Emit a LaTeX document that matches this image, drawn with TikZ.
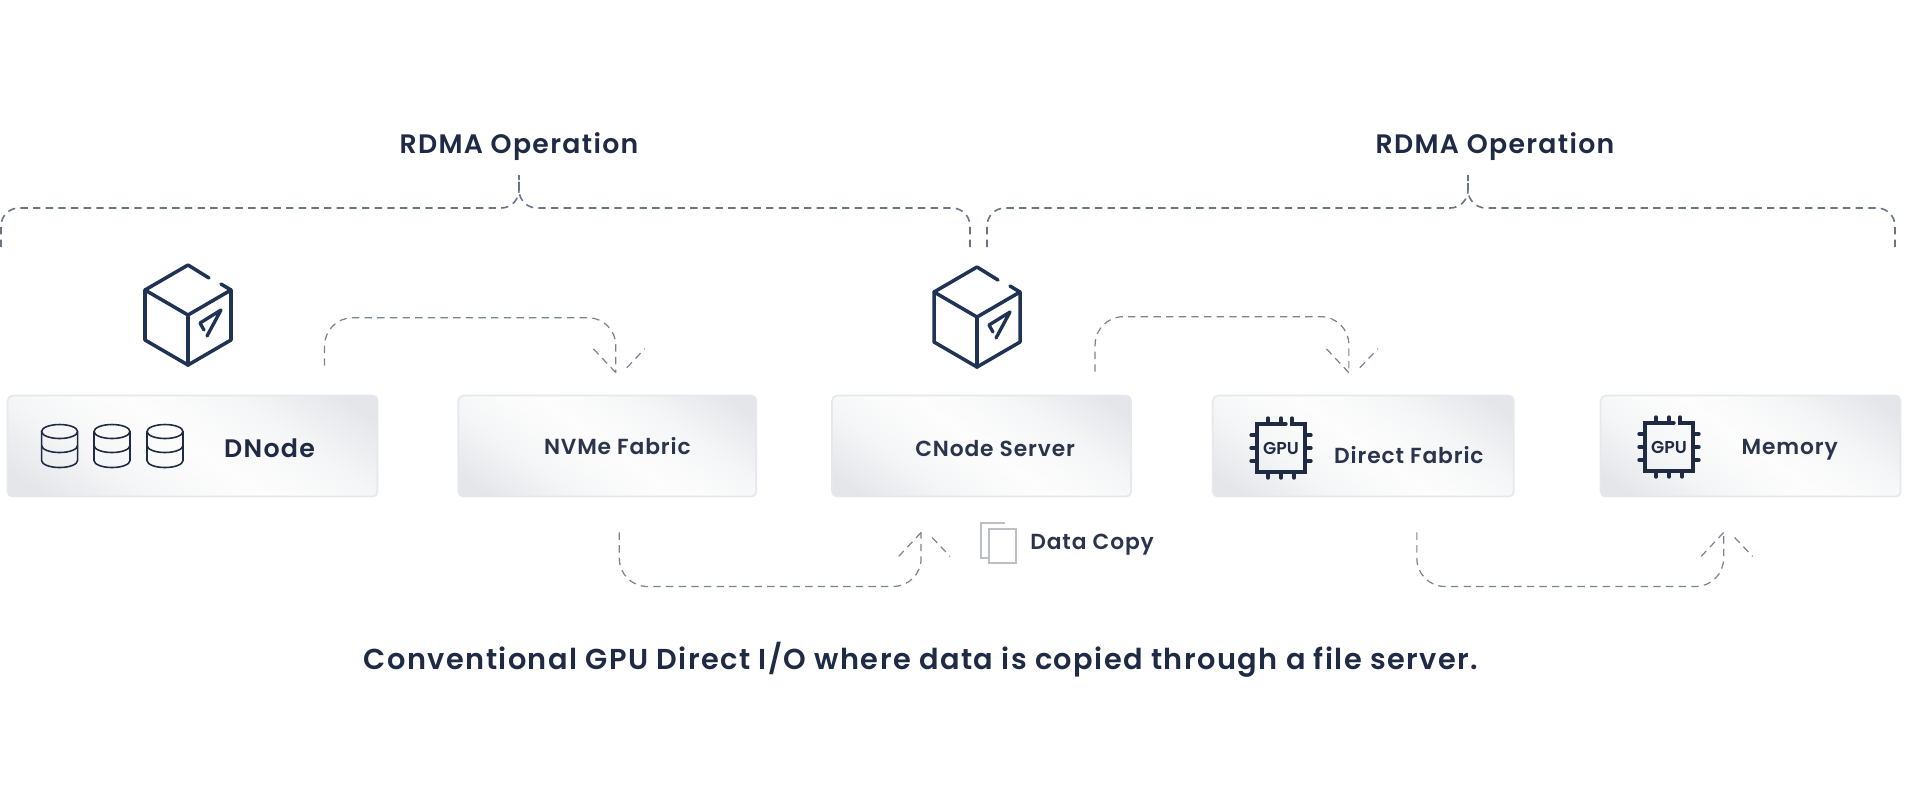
\documentclass[tikz,border=0pt]{standalone}
\usepackage{fontspec}
\setmainfont{Poppins}[UprightFont={* Medium},BoldFont={* SemiBold}]
\newfontfamily\widefont{Poppins}[UprightFont={* SemiBold},LetterSpace=5]
\newfontfamily\tagfont{Poppins}[UprightFont={* SemiBold},LetterSpace=4]
\usepackage{tikz}
\usetikzlibrary{matrix,positioning,calc}
\definecolor{ink}{HTML}{1F2A44}
\definecolor{tagink}{HTML}{2A344C}
\definecolor{cubeink}{HTML}{1F3354}
\definecolor{dashink}{HTML}{6B7386}
\definecolor{flowink}{HTML}{7A8294}
\definecolor{boxgray}{HTML}{E4E6EA}
\definecolor{boxsoft}{HTML}{F5F6F7}
\definecolor{boxwhite}{HTML}{FDFDFD}
\definecolor{boxline}{HTML}{E6E8EC}
\definecolor{pageink}{HTML}{BCBFC5}
\pgfdeclareverticalshading{boxfade}{100bp}{color(0bp)=(boxgray); color(20bp)=(boxgray); color(35bp)=(boxsoft); color(50bp)=(boxwhite); color(65bp)=(boxsoft); color(80bp)=(boxgray); color(100bp)=(boxgray)}
% icons, each one drawn round a named coordinate
\newcommand{\cubeicon}[1]{%
	\begin{scope}[shift={(#1)},draw=cubeink,line width=1pt,line join=round,line cap=round]
		\draw (-.43,.25) -- (0,0) -- (.43,.25) -- (.43,-.25) -- (0,-.50) -- (-.43,-.25) -- cycle;
		\draw (0,0) -- (0,-.50);
		\draw (.21,.37) -- (0,.50) -- (-.43,.25);
		\draw (.43,.25) -- (.33,.31);
		\draw[line width=.95pt] (.19,-.21) -- (.33,.05) -- (.12,-.08) -- (.16,-.15);
	\end{scope}}
\newcommand{\dbicon}[1]{%
	\begin{scope}[shift={(#1)},draw=ink,line width=.45pt]
		\draw (0,.14) ellipse [x radius=.18,y radius=.07];
		\draw (-.18,.14) -- (-.18,-.15) arc [start angle=180,end angle=360,x radius=.18,y radius=.07] -- (.18,.14);
		\draw (-.18,0) arc [start angle=180,end angle=360,x radius=.18,y radius=.07];
	\end{scope}}
\newcommand{\chipicon}[1]{%
	\begin{scope}[shift={(#1)},draw=ink,line width=.95pt,line cap=round]
		\draw (.05,.24) -- (-.24,.24) -- (-.24,-.24) -- (.24,-.24) -- (.24,.24) -- (.11,.24) -- (.11,.30);
		\foreach \px in {-.13,0} \draw (\px,.24) -- (\px,.30);
		\foreach \px in {-.13,0,.13} \draw (\px,-.24) -- (\px,-.30);
		\foreach \py in {-.13,0,.13} {
			\draw (-.24,\py) -- (-.30,\py);
			\draw (.24,\py) -- (.30,\py);
		}
		\node[text=ink,inner sep=0pt,font=\fontsize{4.9}{5}\selectfont\bfseries] (#1 name) at (0,0) {GPU};
	\end{scope}}

\begin{document}
\begin{tikzpicture}[auto]
	\tikzstyle{block} = [rectangle, draw=boxline, line width=.5pt, rounded corners=.05cm, inner sep=0pt, minimum height=1.01cm, shading=boxfade, shading angle=-35]
	\tikzstyle{head} = [text=ink, inner sep=0pt, font=\fontsize{7.6}{9}\selectfont\widefont]
	\tikzstyle{tag} = [text=tagink, inner sep=0pt, font=\fontsize{6.2}{8}\selectfont\tagfont]

	\useasboundingbox (0,0) rectangle (19.2,-8.1);

	\matrix [column sep=7.8mm,anchor=north west,inner sep=0pt,ampersand replacement=\&] at (0.06,-3.94)
	{
		\node [block, minimum width=3.70cm] (dnode)  {}; \&[.1mm]
		\node [block, minimum width=2.98cm] (nvme)   {}; \&[-.4mm]
		\node [block, minimum width=2.99cm] (cnode)  {}; \&[.2mm]
		\node [block, minimum width=3.01cm] (direct) {}; \&[.7mm]
		\node [block, minimum width=3.00cm] (memory) {}; \\
	};

	% box labels
	\node [tag, text=ink, font=\fontsize{7.2}{8}\selectfont\widefont] at ([shift={(.77,-.02)}]dnode.center) (dnode text) {DNode};
	\node [tag] at ([shift={(.10,0)}]nvme.center) (nvme text) {NVMe Fabric};
	\node [tag] at ([shift={(.135,-.025)}]cnode.center) (cnode text) {CNode Server};
	\node [tag] at ([shift={(.455,-.085)}]direct.center) (direct text) {Direct Fabric};
	\node [tag] at ([shift={(.39,-.035)}]memory.center) (memory text) {Memory};
	\node [tag] at ([shift={(1.105,-.47)}]cnode.south) (copy text) {Data Copy};

	% titles
	\node [head] at (5.19,-1.47) (left title) {RDMA Operation};
	\node [head] at (14.95,-1.47) (right title) {RDMA Operation};
	\node [head, font=\fontsize{8.2}{9}\selectfont\widefont] at (9.21,-6.60) (caption) {Conventional GPU Direct I/O where data is copied through a file server.};

	% icons
	\coordinate (left cube) at (1.88,-3.15);
	\coordinate (mid cube) at (9.77,-3.17);
	\cubeicon{left cube}
	\cubeicon{mid cube}
	\foreach \dbx in {.596,1.12,1.65} {
		\coordinate (db) at (\dbx,-4.455);
		\dbicon{db}
	}
	\coordinate (chip a) at (12.81,-4.48);
	\coordinate (chip b) at (16.69,-4.47);
	\chipicon{chip a}
	\chipicon{chip b}
	\draw[pageink, line width=.4pt] (10.09,-5.58) -- (9.81,-5.58) -- (9.81,-5.23) -- (10.05,-5.23);
	\draw[pageink, line width=.45pt, fill=white] (9.89,-5.29) rectangle (10.16,-5.63);

	% free ends of the connectors
	\coordinate (left a) at (0.01,-2.47);
	\coordinate (left b) at (9.70,-2.47);
	\coordinate (right a) at (9.87,-2.47);
	\coordinate (right b) at (18.95,-2.47);
	\coordinate (left tick) at (5.19,-1.75);
	\coordinate (right tick) at (14.68,-1.75);
	\coordinate (dnode out) at ([shift={(1.32,.29)}]dnode.north);
	\coordinate (nvme in) at ([shift={(.085,.22)}]nvme.north);
	\coordinate (nvme out) at ([shift={(.12,-.35)}]nvme.south);
	\coordinate (cnode in) at ([shift={(-.605,-.35)}]cnode.south);
	\coordinate (cnode out) at ([shift={(1.135,.23)}]cnode.north);
	\coordinate (direct in) at ([shift={(-.145,.22)}]direct.north);
	\coordinate (direct out) at ([shift={(.535,-.35)}]direct.south);
	\coordinate (memory in) at ([shift={(-.27,-.35)}]memory.south);

	%operation braces
	\tikzstyle{every path}=[draw, dashink, line width=.45pt, dash pattern=on 2.1pt off 1.5pt, rounded corners=.18cm]
		\path (left a) -- ++(0,.39) -- ($(left tick)+(0,-.33)$) -- (left tick);
		\path (left b) -- ++(0,.39) -- ($(left tick)+(0,-.33)$) -- (left tick);
		\path (right a) -- ++(0,.39) -- ($(right tick)+(0,-.33)$) -- (right tick);
		\path (right b) -- ++(0,.39) -- ($(right tick)+(0,-.33)$) -- (right tick);

	%flow paths
	\tikzstyle{every path}=[draw, flowink, line width=.35pt, dash pattern=on 2.1pt off 1.5pt, rounded corners=.28cm]
		\path (dnode out) -- ++(0,.48) -| (nvme in);
		\path (cnode out) -- ++(0,.55) -| (direct in);
		\path (nvme out) -- ++(0,-.54) -| (cnode in);
		\path (direct out) -- ++(0,-.54) -| (memory in);

	%open arrow heads
	\foreach \tip/\s in {nvme in/1,direct in/1,cnode in/-1,memory in/-1} {
		\path (\tip) -- +(-.225,\s*.24);
		\path ([shift={(.11,\s*.05)}]\tip) -- +(.18,\s*.19);
	}
\end{tikzpicture}
\end{document}
